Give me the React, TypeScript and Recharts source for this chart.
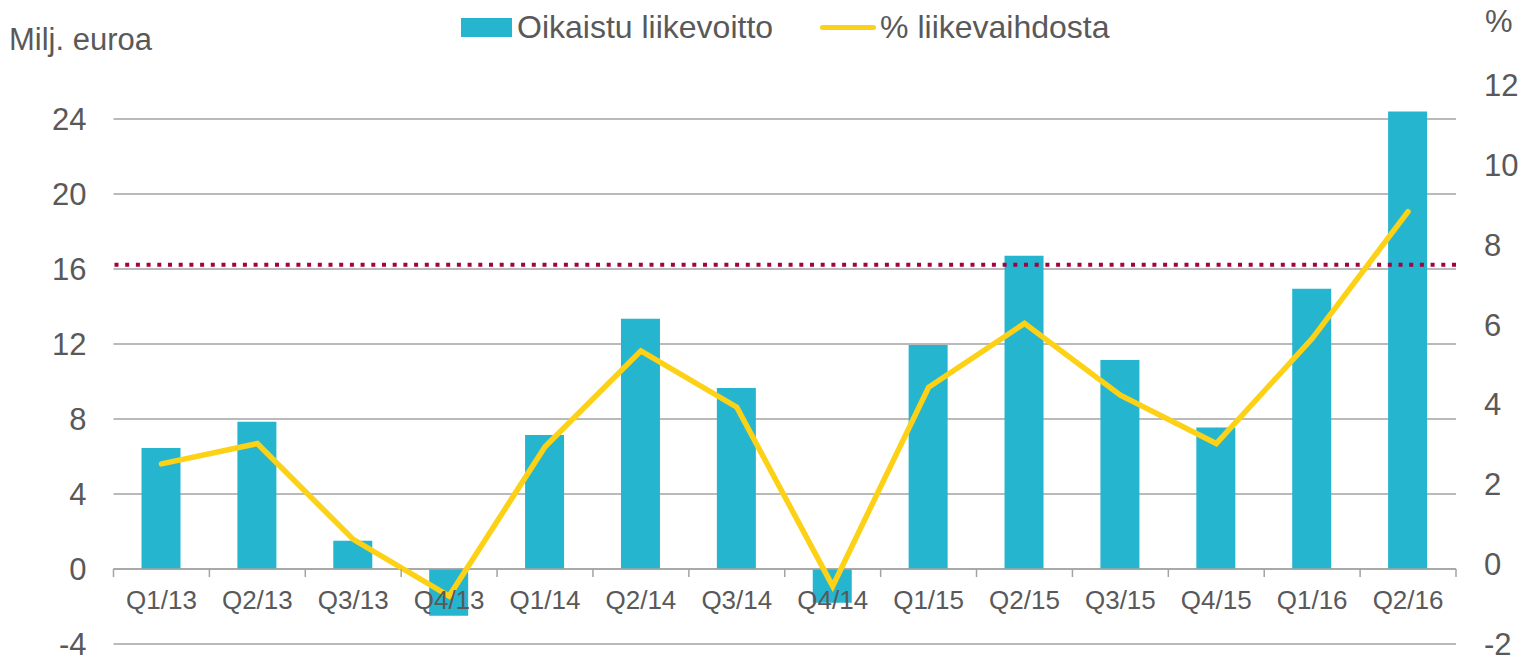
import { Bar, CartesianGrid, ComposedChart, Line, ReferenceLine, XAxis, YAxis } from 'recharts';

const quarters = ['Q1/13', 'Q2/13', 'Q3/13', 'Q4/13', 'Q1/14', 'Q2/14', 'Q3/14', 'Q4/14', 'Q1/15', 'Q2/15', 'Q3/15', 'Q4/15', 'Q1/16', 'Q2/16'];
const operatingProfit = [6.45, 7.85, 1.5, -2.5, 7.15, 13.35, 9.65, -1.8, 11.95, 16.7, 11.15, 7.55, 14.95, 24.4];
const marginPct = [2.51, 3.02, 0.62, -0.8, 2.94, 5.34, 3.93, -0.55, 4.43, 6.03, 4.23, 3.02, 5.65, 8.83];
const leftTicks = [-4, 0, 4, 8, 12, 16, 20, 24];
const rightTicks = [-2, 0, 2, 4, 6, 8, 10, 12];
const targetPct = 7.5;

const LEFT_DOMAIN: [number, number] = [-4, 25.81];
const RIGHT_DOMAIN: [number, number] = [-2, 12];
const PLOT_TOP = 85;
const PLOT_BOTTOM = 644;
const W = 1522;
const H = 657;

const BAR = '#26b5cf';
const LINE = '#fcd116';
const GRID = '#a3a3a3';
const TEXT = '#595959';
const FONT = '"Liberation Sans", Arial, sans-serif';

const data = quarters.map((q, i) => ({ q, profit: operatingProfit[i], pct: marginPct[i] }));

// distance from the bottom of the plot up to the zero line of the left axis
const zeroLift = ((0 - LEFT_DOMAIN[0]) / (LEFT_DOMAIN[1] - LEFT_DOMAIN[0])) * (PLOT_BOTTOM - PLOT_TOP);

function CategoryTick(props: any) {
  const { x, y, payload, index, width, visibleTicksCount } = props;
  const half = payload?.offset || width / visibleTicksCount / 2;
  const zeroY = y - zeroLift;
  return (
    <g>
      <line x1={x - half} x2={x - half} y1={zeroY} y2={zeroY + 8} stroke={GRID} strokeWidth={1.5} />
      {index === visibleTicksCount - 1 && (
        <line x1={x + half} x2={x + half} y1={zeroY} y2={zeroY + 8} stroke={GRID} strokeWidth={1.5} />
      )}
      <text x={x} y={zeroY + 31} textAnchor="middle" dominantBaseline="central" fill={TEXT} fontSize={26} fontFamily={FONT}>
        {payload.value}
      </text>
    </g>
  );
}

const labelStyle = { position: 'absolute' as const, fontFamily: FONT, color: TEXT, fontSize: 31, lineHeight: '36px', whiteSpace: 'nowrap' as const };

export default function App() {
  return (
    <div style={{ position: 'absolute', left: 0, top: 0, width: W, height: H, background: '#fff' }}>
      <div style={{ ...labelStyle, left: 9, top: 22 }}>Milj. euroa</div>
      <div style={{ ...labelStyle, left: 1485, top: 4 }}>%</div>
      <div style={{ ...labelStyle, fontSize: 32, left: 461, top: 9, display: 'flex', alignItems: 'center' }}>
        <span style={{ display: 'inline-block', width: 51, height: 19, background: BAR, marginRight: 5 }} />
        <span>Oikaistu liikevoitto</span>
        <span style={{ display: 'inline-block', width: 56, height: 5, borderRadius: 3, background: LINE, marginLeft: 47, marginRight: 4 }} />
        <span>% liikevaihdosta</span>
      </div>
      <ComposedChart width={W} height={H} data={data} margin={{ top: PLOT_TOP, right: 0, bottom: 0, left: 0 }} barSize={39}>
        <CartesianGrid yAxisId="left" vertical={false} horizontalValues={leftTicks} stroke={GRID} strokeWidth={1.5} />
        <XAxis
          dataKey="q"
          height={H - PLOT_BOTTOM}
          axisLine={false}
          tickLine={false}
          tickSize={0}
          tickMargin={0}
          interval={0}
          tick={<CategoryTick />}
        />
        <YAxis
          yAxisId="left"
          width={113.5}
          domain={LEFT_DOMAIN}
          ticks={leftTicks}
          interval={0}
          allowDataOverflow
          axisLine={false}
          tickLine={false}
          tickMargin={21}
          tick={{ fill: TEXT, fontSize: 31, fontFamily: FONT }}
        />
        <YAxis
          yAxisId="right"
          orientation="right"
          width={W - 1456}
          domain={RIGHT_DOMAIN}
          ticks={rightTicks}
          interval={0}
          allowDataOverflow
          axisLine={false}
          tickLine={false}
          tickMargin={22}
          tick={{ fill: TEXT, fontSize: 31, fontFamily: FONT }}
        />
        <ReferenceLine yAxisId="left" y={0} stroke={GRID} strokeWidth={1.5} />
        <Bar yAxisId="left" dataKey="profit" fill={BAR} isAnimationActive={false} />
        <ReferenceLine yAxisId="right" y={targetPct} stroke="#a5003f" strokeWidth={4} strokeDasharray="4 6.7" />
        <Line
          yAxisId="right"
          dataKey="pct"
          stroke={LINE}
          strokeWidth={5.5}
          strokeLinecap="round"
          dot={false}
          activeDot={false}
          isAnimationActive={false}
        />
      </ComposedChart>
    </div>
  );
}
